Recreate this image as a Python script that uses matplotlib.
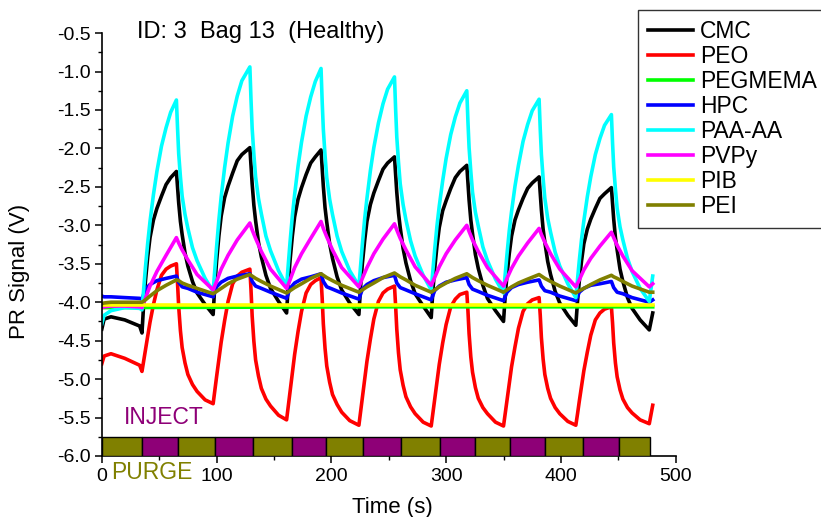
import matplotlib
matplotlib.use("Agg")
import matplotlib.pyplot as plt
from matplotlib.ticker import MultipleLocator, FormatStrFormatter

plt.rcParams['font.family'] = ['Liberation Sans', 'DejaVu Sans']
plt.rcParams['axes.unicode_minus'] = False

# dense time points (s) for the three big-swing channels
t_dense = [0, 2, 8, 20, 33,
           35, 36.5, 38, 40, 42, 45, 48, 52, 56, 60, 65, 66, 67, 68.5, 70, 72.5, 75, 79, 83, 90,
           97, 98.5, 100, 102, 104, 107, 110, 114, 118, 122, 129, 130, 131, 132.5, 134, 136.5, 139, 143, 147, 154,
           161, 162.5, 164, 166, 168, 171, 174, 178, 182, 186, 191, 192, 193, 194.5, 196, 198.5, 201, 205, 209, 216,
           224, 225.5, 227, 229, 231, 234, 237, 241, 245, 249, 255, 256, 257, 258.5, 260, 262.5, 265, 269, 273, 280,
           287, 288.5, 290, 292, 294, 297, 300, 304, 308, 312, 318, 319, 320, 321.5, 323, 325.5, 328, 332, 336, 343,
           350, 351.5, 353, 355, 357, 360, 363, 367, 371, 375, 381, 382, 383, 384.5, 386, 388.5, 391, 395, 399, 406,
           413, 414.5, 416, 418, 420, 423, 426, 430, 434, 438, 444, 445, 446, 447.5, 449, 451.5, 454, 458, 462, 469,
           477, 480]

cmc = [-4.35, -4.22, -4.19, -4.23, -4.31,
       -4.40, -4.02, -3.73, -3.41, -3.16, -2.93, -2.78, -2.62, -2.47, -2.38,
       -2.30, -2.50, -2.71, -2.95, -3.12, -3.36, -3.53, -3.73, -3.88, -4.03,
       -4.16, -3.77, -3.47, -3.14, -2.88, -2.64, -2.49, -2.32, -2.16, -2.08,
       -1.99, -2.23, -2.46, -2.74, -2.94, -3.22, -3.41, -3.65, -3.82, -3.99,
       -4.14, -3.76, -3.46, -3.14, -2.89, -2.66, -2.51, -2.34, -2.19, -2.11,
       -2.02, -2.26, -2.49, -2.77, -2.96, -3.24, -3.43, -3.67, -3.84, -4.01,
       -4.16, -3.79, -3.50, -3.20, -2.95, -2.73, -2.58, -2.42, -2.27, -2.19,
       -2.11, -2.34, -2.57, -2.84, -3.03, -3.30, -3.49, -3.72, -3.89, -4.05,
       -4.20, -3.84, -3.57, -3.27, -3.03, -2.81, -2.68, -2.52, -2.38, -2.30,
       -2.22, -2.44, -2.67, -2.93, -3.11, -3.38, -3.56, -3.78, -3.95, -4.11,
       -4.25, -3.91, -3.65, -3.37, -3.14, -2.93, -2.80, -2.65, -2.52, -2.45,
       -2.37, -2.58, -2.80, -3.05, -3.22, -3.47, -3.64, -3.86, -4.01, -4.17,
       -4.30, -3.98, -3.73, -3.46, -3.24, -3.05, -2.92, -2.78, -2.65, -2.59,
       -2.51, -2.71, -2.92, -3.16, -3.32, -3.57, -3.73, -3.94, -4.08, -4.23,
       -4.36, -4.14]

peo = [-4.80, -4.70, -4.67, -4.73, -4.82,
       -4.90, -4.76, -4.62, -4.44, -4.26, -4.03, -3.84, -3.65, -3.57, -3.53,
       -3.50, -3.76, -4.06, -4.37, -4.59, -4.79, -4.94, -5.07, -5.16, -5.27,
       -5.32, -5.15, -4.97, -4.74, -4.52, -4.24, -3.99, -3.76, -3.66, -3.61,
       -3.57, -3.84, -4.18, -4.51, -4.75, -4.96, -5.12, -5.26, -5.35, -5.47,
       -5.53, -5.35, -5.16, -4.92, -4.68, -4.38, -4.12, -3.88, -3.77, -3.72,
       -3.68, -3.95, -4.28, -4.60, -4.83, -5.04, -5.20, -5.33, -5.43, -5.54,
       -5.60, -5.42, -5.24, -5.00, -4.77, -4.48, -4.22, -3.99, -3.88, -3.83,
       -3.79, -4.05, -4.35, -4.66, -4.88, -5.08, -5.23, -5.36, -5.45, -5.56,
       -5.61, -5.44, -5.26, -5.04, -4.81, -4.53, -4.29, -4.06, -3.96, -3.90,
       -3.87, -4.11, -4.41, -4.71, -4.91, -5.11, -5.25, -5.37, -5.45, -5.56,
       -5.61, -5.44, -5.28, -5.06, -4.84, -4.58, -4.34, -4.12, -4.02, -3.97,
       -3.94, -4.17, -4.46, -4.74, -4.94, -5.12, -5.25, -5.37, -5.45, -5.55,
       -5.60, -5.45, -5.29, -5.09, -4.89, -4.65, -4.43, -4.23, -4.14, -4.09,
       -4.06, -4.27, -4.53, -4.79, -4.97, -5.14, -5.26, -5.37, -5.44, -5.53,
       -5.58, -5.34]

paa_aa = [-4.28, -4.17, -4.11, -4.07, -4.08,
          -4.10, -3.83, -3.55, -3.23, -2.95, -2.60, -2.30, -1.97, -1.73, -1.53,
          -1.37, -1.74, -2.07, -2.37, -2.62, -2.86, -3.04, -3.29, -3.46, -3.69,
          -3.86, -3.57, -3.28, -2.93, -2.63, -2.25, -1.93, -1.58, -1.32, -1.12,
          -0.94, -1.37, -1.74, -2.08, -2.37, -2.65, -2.85, -3.14, -3.33, -3.59,
          -3.79, -3.51, -3.22, -2.88, -2.60, -2.23, -1.92, -1.58, -1.33, -1.13,
          -0.96, -1.39, -1.75, -2.09, -2.38, -2.66, -2.86, -3.14, -3.34, -3.59,
          -3.79, -3.52, -3.25, -2.92, -2.65, -2.29, -1.99, -1.67, -1.42, -1.23,
          -1.07, -1.49, -1.85, -2.18, -2.46, -2.73, -2.93, -3.20, -3.40, -3.65,
          -3.84, -3.58, -3.32, -3.01, -2.75, -2.42, -2.13, -1.82, -1.59, -1.41,
          -1.25, -1.65, -1.99, -2.30, -2.57, -2.83, -3.01, -3.28, -3.46, -3.70,
          -3.88, -3.63, -3.38, -3.07, -2.82, -2.49, -2.22, -1.91, -1.69, -1.51,
          -1.36, -1.75, -2.08, -2.39, -2.65, -2.91, -3.09, -3.35, -3.53, -3.76,
          -3.94, -3.70, -3.46, -3.18, -2.94, -2.63, -2.37, -2.08, -1.87, -1.70,
          -1.56, -1.93, -2.24, -2.53, -2.78, -3.02, -3.19, -3.43, -3.60, -3.82,
          -3.99, -3.66]

# coarser time points (s) for the small-swing channels
t = [0, 2, 8, 20, 33,
     35, 38, 42, 48, 56, 65, 67, 70, 75, 83,
     97, 100, 104, 110, 118, 129, 131, 134, 139, 147,
     161, 164, 168, 174, 182, 191, 193, 196, 201, 209,
     224, 227, 231, 237, 245, 255, 257, 260, 265, 273,
     287, 290, 294, 300, 308, 318, 320, 323, 328, 336,
     350, 353, 357, 363, 371, 381, 383, 386, 391, 399,
     413, 416, 420, 426, 434, 444, 446, 449, 454, 462,
     477, 480]

pvpy = [-4.07, -4.06, -4.05, -4.05, -4.06,
        -4.07, -3.95, -3.79, -3.60, -3.39, -3.16, -3.23, -3.32, -3.45, -3.64,
        -3.84, -3.73, -3.57, -3.39, -3.19, -2.97, -3.06, -3.17, -3.34, -3.57,
        -3.82, -3.71, -3.55, -3.37, -3.17, -2.95, -3.04, -3.15, -3.32, -3.55,
        -3.80, -3.69, -3.55, -3.37, -3.18, -2.98, -3.06, -3.17, -3.32, -3.54,
        -3.78, -3.68, -3.54, -3.37, -3.19, -3.00, -3.08, -3.19, -3.34, -3.55,
        -3.79, -3.69, -3.56, -3.40, -3.23, -3.04, -3.12, -3.22, -3.37, -3.57,
        -3.80, -3.71, -3.58, -3.43, -3.27, -3.09, -3.16, -3.26, -3.40, -3.59,
        -3.80, -3.76]

hpc = [-3.92, -3.93, -3.93, -3.94, -3.95,
       -3.96, -3.83, -3.77, -3.72, -3.69, -3.66, -3.74, -3.80, -3.82, -3.87,
       -3.93, -3.80, -3.74, -3.69, -3.66, -3.63, -3.73, -3.79, -3.82, -3.87,
       -3.95, -3.82, -3.75, -3.70, -3.67, -3.63, -3.73, -3.80, -3.83, -3.88,
       -3.96, -3.83, -3.77, -3.72, -3.68, -3.65, -3.75, -3.81, -3.84, -3.89,
       -3.97, -3.85, -3.79, -3.74, -3.71, -3.68, -3.77, -3.83, -3.86, -3.91,
       -3.98, -3.87, -3.81, -3.77, -3.74, -3.71, -3.79, -3.85, -3.87, -3.92,
       -3.98, -3.87, -3.82, -3.78, -3.76, -3.73, -3.81, -3.87, -3.89, -3.94,
       -4.00, -3.97]

pei = [-4.02, -4.01, -4.00, -4.00, -4.00,
       -4.00, -3.97, -3.92, -3.85, -3.78, -3.71, -3.72, -3.75, -3.78, -3.82,
       -3.89, -3.86, -3.82, -3.76, -3.70, -3.64, -3.66, -3.69, -3.73, -3.79,
       -3.88, -3.85, -3.81, -3.76, -3.69, -3.63, -3.65, -3.68, -3.72, -3.78,
       -3.87, -3.84, -3.80, -3.75, -3.68, -3.62, -3.64, -3.67, -3.71, -3.78,
       -3.87, -3.84, -3.80, -3.75, -3.69, -3.63, -3.65, -3.68, -3.72, -3.78,
       -3.87, -3.84, -3.80, -3.75, -3.70, -3.64, -3.66, -3.69, -3.73, -3.79,
       -3.88, -3.85, -3.82, -3.77, -3.71, -3.65, -3.67, -3.69, -3.73, -3.79,
       -3.87, -3.87]

# the two nearly flat channels
t_flat = [0, 240, 480]
pegmema = [-4.07, -4.06, -4.06]
pib = [-4.03, -4.03, -4.03]

# inject / purge timing strip
phase_edges = [0, 35, 66, 99, 132, 166, 195, 228, 261, 295, 325, 356, 386, 419, 451, 478]
phase_kind = ['PURGE', 'INJECT'] * 7 + ['PURGE']

purple = '#8E0077'
olive = '#808000'

fig = plt.figure(figsize=(8.21, 5.17), dpi=100)
ax = fig.add_axes([0.124, 0.118, 0.699, 0.818])

lw = 2.6
ax.plot(t_dense, cmc, color='black', lw=lw, label='CMC')
ax.plot(t_dense, peo, color='#FF0000', lw=lw, label='PEO')
ax.plot(t_flat, pegmema, color='#00FF00', lw=lw, label='PEGMEMA')
ax.plot(t, hpc, color='#0000FF', lw=lw, label='HPC')
ax.plot(t_dense, paa_aa, color='#00FFFF', lw=lw, label='PAA-AA')
ax.plot(t, pvpy, color='#FF00FF', lw=lw, label='PVPy')
ax.plot(t_flat, pib, color='#FFFF00', lw=lw, label='PIB')
ax.plot(t, pei, color=olive, lw=lw, label='PEI')

for i, kind in enumerate(phase_kind):
    x0 = phase_edges[i]
    w = phase_edges[i + 1] - x0
    ax.bar(x0, 0.25, width=w, bottom=-6.0, align='edge',
           color=purple if kind == 'INJECT' else olive,
           edgecolor='black', linewidth=1.0, zorder=3)

ax.text(54, -5.5, 'INJECT', color=purple, fontsize=16.5, ha='center', va='center')
ax.text(44, -6.21, 'PURGE', color=olive, fontsize=16.5, ha='center', va='center',
        clip_on=False)
ax.text(0.0615, 1.002, 'ID: 3  Bag 13  (Healthy)', transform=ax.transAxes,
        fontsize=17, ha='left', va='center')

ax.set_xlim(0, 500)
ax.set_ylim(-6.0, -0.5)
ax.xaxis.set_major_locator(MultipleLocator(100))
ax.xaxis.set_minor_locator(MultipleLocator(50))
ax.yaxis.set_major_locator(MultipleLocator(0.5))
ax.yaxis.set_minor_locator(MultipleLocator(0.25))
ax.yaxis.set_major_formatter(FormatStrFormatter('%.1f'))
ax.spines['top'].set_visible(False)
ax.spines['right'].set_visible(False)
for s in ('left', 'bottom'):
    ax.spines[s].set_linewidth(1.2)
ax.tick_params(which='major', length=5, width=1.1, labelsize=14)
ax.tick_params(which='minor', length=3, width=1.0)
ax.tick_params(axis='x', pad=4)
ax.tick_params(axis='y', pad=3)

ax.set_xlabel('Time (s)', fontsize=16)
ax.set_ylabel('PR Signal (V)', fontsize=16)
ax.xaxis.set_label_coords(0.507, -0.097)
ax.yaxis.set_label_coords(-0.125, 0.436)

leg = fig.legend(loc='upper left', bbox_to_anchor=(0.777, 0.981), fontsize=16.5,
                 handlelength=1.96, handletextpad=0.3, borderpad=0.44,
                 labelspacing=0.09, borderaxespad=0, fancybox=False)
leg.get_frame().set_edgecolor('black')
leg.get_frame().set_linewidth(1.0)

fig.savefig('out.png', dpi=100)
